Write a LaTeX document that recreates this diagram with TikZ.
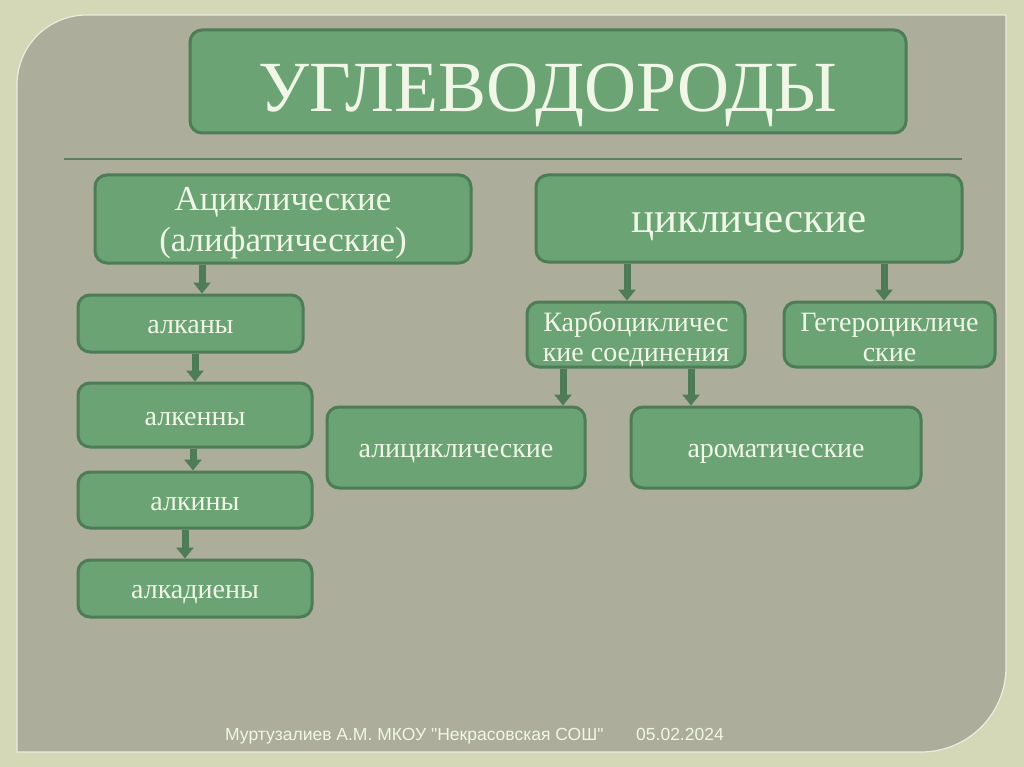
\documentclass[tikz,border=0pt]{standalone}
\usepackage{fontspec}
\setmainfont{Liberation Serif}
\newfontfamily\footfont{Liberation Sans}
\usetikzlibrary{arrows.meta}
\definecolor{framebg}{HTML}{D4D8B6}
\definecolor{panelbg}{HTML}{ACAD9B}
\definecolor{boxfill}{HTML}{6BA374}
\definecolor{boxline}{HTML}{4E7C56}
\definecolor{boxtext}{HTML}{F0F7E6}
\definecolor{rulecol}{HTML}{5F7E64}
\newcommand\pad[1]{\rule{0pt}{#1}}
\begin{document}
\begin{tikzpicture}[x=1pt,y=-1pt,line join=round,
	box/.style={draw=boxline,line width=3pt,fill=boxfill,text=boxtext,rounded corners=12pt,align=center,inner sep=0pt},
	arr/.style={draw=boxline,line width=7pt,-{Triangle[width=17pt,length=11pt]}},
	big/.style={font=\fontsize{28}{30}\selectfont},
	one/.style={text height=20pt,text depth=0pt}]
	\useasboundingbox (0,0) rectangle (1024,767);
	\fill[framebg] (0,0) rectangle (1024,767);
	\filldraw[fill=panelbg,draw=white!55!framebg,line width=1.2pt] (17,752) -- (17,85) .. controls (17,46) and (48,15) .. (87,15) -- (1006,15) -- (1006,667) .. controls (1006,714) and (968,752) .. (921,752) -- cycle;
	\draw[rulecol,line width=2pt] (64,159) -- (962,159);
	\node[box,minimum width=716,minimum height=103,text height=61pt,text depth=0pt,font=\fontsize{72}{72}\selectfont] (uv) at (548,81.5) {УГЛЕВОДОРОДЫ};
	\node[box,minimum width=376,minimum height=88,font=\fontsize{35}{41}\selectfont] (acyc) at (283,219) {\pad{31pt}Ациклические\\(алифатические)};
	\node[box,one,text height=29pt,minimum width=426,minimum height=87,font=\fontsize{43}{46}\selectfont] (cyc) at (749,218.5) {циклические};
	\node[box,big,one,minimum width=225,minimum height=57] (alkany) at (190.5,323.5) {алканы};
	\node[box,big,one,minimum width=234,minimum height=64] (alkeny) at (195,415) {алкенны};
	\node[box,big,one,minimum width=234,minimum height=56] (alkiny) at (195,500) {алкины};
	\node[box,big,one,minimum width=234,minimum height=57] (alkadieny) at (195,588.5) {алкадиены};
	\node[box,big,minimum width=218,minimum height=65] (carbo) at (636,334.5) {\pad{29pt}Карбоцикличес\\кие соединения};
	\node[box,big,minimum width=211,minimum height=65] (hetero) at (889.5,334.5) {\pad{25pt}Гетероцикличе\\ские};
	\node[box,big,one,minimum width=258,minimum height=81] (alicyc) at (456,447.5) {алициклические};
	\node[box,big,one,minimum width=290,minimum height=81] (arom) at (776,447.5) {ароматические};
	\foreach \a/\b/\s in {acyc/alkany/-81,alkany/alkeny/4.5,alkeny/alkiny/-2,alkiny/alkadieny/-10,cyc/carbo/-122,cyc/hetero/135,carbo/alicyc/-73,carbo/arom/55}{
		\path ([xshift=\s pt]\a.south) coordinate (p);
		\draw[arr] (p) -- (p |- \b.north);
	}
	\node[text=boxtext,font=\footfont\fontsize{17.5}{17.5}\selectfont,anchor=base west,inner sep=0pt] (autor) at (225,740) {Муртузалиев А.М. МКОУ "Некрасовская СОШ"};
	\node[text=boxtext,font=\footfont\fontsize{17.5}{17.5}\selectfont,anchor=base west,inner sep=0pt] (datum) at (636,740) {05.02.2024};
\end{tikzpicture}
\end{document}
